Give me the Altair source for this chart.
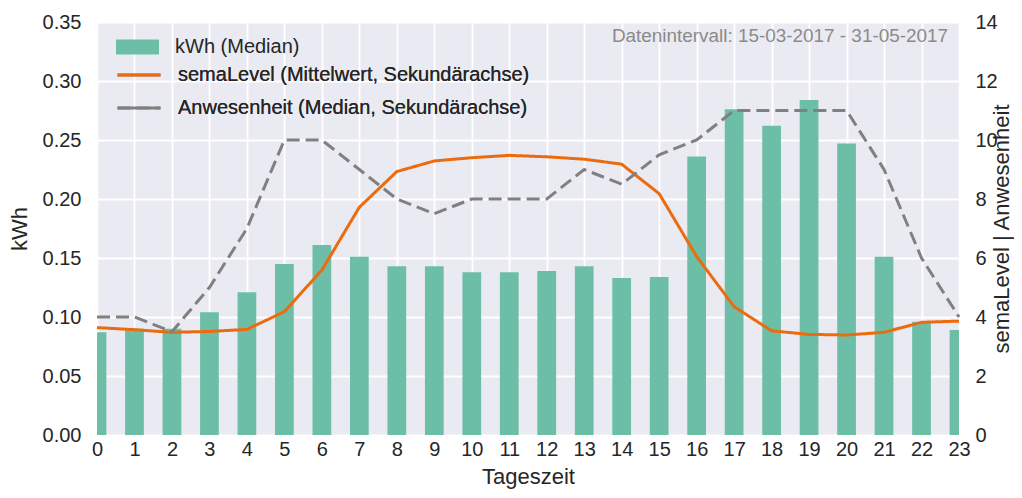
import altair as alt
import pandas as pd

hours = list(range(24))
kwh = [0.087, 0.090, 0.090, 0.104, 0.121, 0.145, 0.161, 0.151, 0.143, 0.143,
       0.138, 0.138, 0.139, 0.143, 0.133, 0.134, 0.236, 0.276, 0.262, 0.284,
       0.247, 0.151, 0.096, 0.089]
sema = [3.64, 3.57, 3.48, 3.51, 3.58, 4.18, 5.59, 7.72, 8.93, 9.29,
        9.40, 9.48, 9.43, 9.35, 9.18, 8.18, 6.05, 4.35, 3.53, 3.41,
        3.39, 3.48, 3.82, 3.86]
anw = [4, 4, 3.5, 5, 7, 10, 10, 9, 8, 7.5,
       8, 8, 8, 9, 8.5, 9.5, 10, 11, 11, 11,
       11, 9, 6, 4]

bar_label = "kWh (Median)"
sema_label = "semaLevel (Mittelwert, Sekundärachse)"
anw_label = "Anwesenheit (Median, Sekundärachse)"
note = "Datenintervall: 15-03-2017 - 31-05-2017"
y_left_ticks = [0, 0.05, 0.10, 0.15, 0.20, 0.25, 0.30, 0.35]
y_right_ticks = [0, 2, 4, 6, 8, 10, 12, 14]

FONT = "Liberation Sans"
TEXT = "#262626"
TEAL = "#6cbfa6"
ORANGE = "#ec6b0e"
GREY = "#808080"

bars_df = pd.DataFrame({"hour": hours, "kwh": kwh, "series": [bar_label] * 24})
lines_df = pd.DataFrame({
    "hour": hours + hours,
    "value": sema + anw,
    "series": [sema_label] * 24 + [anw_label] * 24,
})
note_df = pd.DataFrame({"note": [note]})

xscale = alt.Scale(domain=[0, 23], nice=False, zero=False)
xaxis = alt.Axis(values=hours, format="d", title="Tageszeit", labelPadding=4,
                 labelFlush=False, titlePadding=7, grid=True)

legend_common = dict(title=None, orient="none", labelFont=FONT, labelFontSize=20,
                     labelColor=TEXT, labelLimit=600, padding=0, labelOffset=16,
                     symbolSize=1849)

bars = alt.Chart(bars_df).transform_calculate(
    x0="datum.hour - 0.25", x1="datum.hour + 0.25"
).mark_bar(clip=True).encode(
    x=alt.X("x0:Q", scale=xscale, axis=xaxis),
    x2="x1:Q",
    y=alt.Y("kwh:Q", scale=alt.Scale(domain=[0, 0.35], nice=False),
            axis=alt.Axis(values=y_left_ticks, format=".2f", title="kWh",
                          labelPadding=16, titlePadding=11, grid=True)),
    y2=alt.datum(0),
    color=alt.Color("series:N", scale=alt.Scale(domain=[bar_label], range=[TEAL]),
                    legend=alt.Legend(legendX=19, legendY=3.5,
                                      symbolType="M-1,-0.35L1,-0.35L1,0.35L-1,0.35Z",
                                      symbolStrokeWidth=0, **legend_common)),
)

line_legend = dict(legendX=19, legendY=30, symbolType="stroke", symbolStrokeWidth=3,
                   rowPadding=-18, **legend_common)

lines = alt.Chart(lines_df).mark_line(strokeWidth=3).encode(
    x=alt.X("hour:Q", scale=xscale, axis=xaxis),
    y=alt.Y("value:Q", scale=alt.Scale(domain=[0, 14], nice=False),
            axis=alt.Axis(orient="right", values=y_right_ticks, format="d",
                          title="semaLevel | Anwesenheit", titleAngle=270,
                          titleBaseline="top", labelPadding=16, titlePadding=-6,
                          grid=False)),
    color=alt.Color("series:N",
                    scale=alt.Scale(domain=[sema_label, anw_label], range=[ORANGE, GREY]),
                    legend=alt.Legend(**line_legend)),
    strokeDash=alt.StrokeDash("series:N",
                              scale=alt.Scale(domain=[sema_label, anw_label],
                                              range=[[1, 0], [13, 6]]),
                              legend=alt.Legend(**line_legend)),
)

text = alt.Chart(note_df).mark_text(
    align="right", baseline="alphabetic", font=FONT, fontSize=18.9, color="#8a8a8a"
).encode(text="note:N", x=alt.value(851), y=alt.value(19.5))

chart = alt.layer(bars, lines, text).resolve_scale(
    y="independent", color="independent"
).resolve_legend(color="independent").properties(
    width=862, height=413,
    padding={"left": 89, "top": 14, "right": 55, "bottom": 55},
    autosize=alt.AutoSizeParams(type="none"),
).configure_view(
    fill="#EAEAF2", stroke="#EAEAF2", strokeWidth=0
).configure_axis(
    labelFont=FONT, titleFont=FONT, labelColor=TEXT, titleColor=TEXT,
    labelFontSize=20, titleFontSize=22, titleFontWeight="normal",
    ticks=False, domain=False, gridColor="white", gridWidth=1.8, gridOpacity=1,
)

chart.save("out.html", embed_options={"renderer": "svg", "actions": False})
